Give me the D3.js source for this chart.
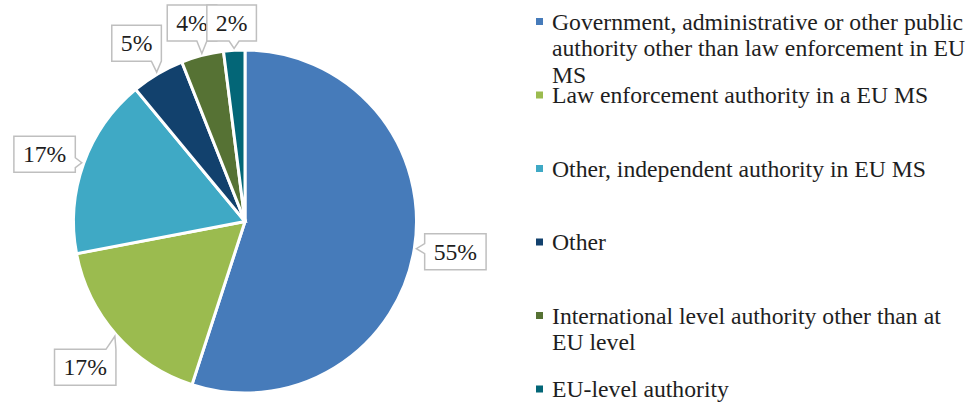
<!DOCTYPE html>
<html lang="en">
  <head>
    <meta charset="UTF-8" />
    <title>Authorities pie</title>
    <style>
      body { margin: 0; background: #fff; }
      svg { display: block; }
      svg text { font-family: "Liberation Serif", "Times New Roman", Times, "DejaVu Serif", serif; }
    </style>
  </head>
  <body>
    <svg width="978" height="403"></svg>

    <script src="https://d3js.org/d3.v7.min.js"></script>
    <script>
      // Data
      const categories = [
        "Government, administrative or other public authority other than law enforcement in EU MS",
        "Law enforcement authority in a EU MS",
        "Other, independent authority in EU MS",
        "Other",
        "International level authority other than at EU level",
        "EU-level authority",
      ];
      const shares = [55, 17, 17, 5, 4, 2];
      const colors = ["#467BBA", "#9BBB4F", "#3FA9C5", "#12416D", "#567234", "#036677"];

      const svg = d3.select("svg");
      const cx = 245, cy = 221.5, radius = 171.5;
      const fontSize = 23.7;

      const pie = d3.pie().sort(null).value((d) => d.value);
      const arc = d3.arc().innerRadius(0).outerRadius(radius);
      const arcs = pie(shares.map((v, i) => ({ value: v, i })));

      const g = svg.append("g").attr("transform", `translate(${cx},${cy})`);

      // Slices
      g.selectAll("path.slice")
        .data(arcs)
        .enter()
        .append("path")
        .attr("class", "slice")
        .attr("d", arc)
        .attr("fill", (d) => colors[d.data.i])
        .attr("stroke", "#fff")
        .attr("stroke-width", 3)
        .attr("stroke-linejoin", "miter");

      // measure text with a hidden svg text node
      const probe = svg.append("text").attr("font-size", fontSize).attr("opacity", 0);
      function textW(s) {
        probe.text(s);
        return probe.node().getComputedTextLength();
      }

      const labelR = 213;
      const boxH = 36;

      // box with a little wedge pointing at (tx, ty)
      function calloutPath(x0, y0, w, h, tx, ty) {
        const x1 = x0 + w, y1 = y0 + h;
        const half = 5;
        const dxL = x0 - tx, dxR = tx - x1, dyT = y0 - ty, dyB = ty - y1;
        const m = Math.max(dxL, dxR, dyT, dyB);
        const side = m === dxL ? "L" : m === dxR ? "R" : m === dyT ? "T" : "B";
        const clamp = (v, a, b) => Math.max(a + half, Math.min(b - half, v));
        const pts = [[x0, y0]];
        if (side === "T") {
          const c = clamp(tx, x0, x1);
          pts.push([c - half, y0], [tx, ty], [c + half, y0]);
        }
        pts.push([x1, y0]);
        if (side === "R") {
          const c = clamp(ty, y0, y1);
          pts.push([x1, c - half], [tx, ty], [x1, c + half]);
        }
        pts.push([x1, y1]);
        if (side === "B") {
          const c = clamp(tx, x0, x1);
          pts.push([c + half, y1], [tx, ty], [c - half, y1]);
        }
        pts.push([x0, y1]);
        if (side === "L") {
          const c = clamp(ty, y0, y1);
          pts.push([x0, c + half], [tx, ty], [x0, c - half]);
        }
        return "M" + pts.map((p) => p.join(",")).join("L") + "Z";
      }

      const labels = svg.append("g");
      arcs.forEach((d) => {
        const a = (d.startAngle + d.endAngle) / 2;
        const text = shares[d.data.i] + "%";
        const w = textW(text) + 18;
        const bx = cx + labelR * Math.sin(a);
        // left-side boxes sit a touch lower in the original
        const by = cy - labelR * Math.cos(a) + (Math.sin(a) < 0 ? 5 : -3);
        const x0 = bx - w / 2;
        const y0 = Math.max(5, by - boxH / 2);
        const tx = cx + (radius + 2) * Math.sin(a);
        const ty = cy - (radius + 2) * Math.cos(a);
        labels
          .append("path")
          .attr("d", calloutPath(x0, y0, w, boxH, tx, ty))
          .attr("fill", "#fff")
          .attr("stroke", "#BFBFBF")
          .attr("stroke-width", 1.5);
        labels
          .append("text")
          .attr("x", x0 + w / 2)
          .attr("y", y0 + 26)
          .attr("text-anchor", "middle")
          .attr("font-size", fontSize)
          .attr("fill", "#1e1e1e")
          .text(text);
      });

      // Legend
      const legendX = 552, legendTop = 29.5, legendStep = 73.5, lineH = 26.5, wrapW = 420;
      function wrap(str) {
        const words = str.split(" ");
        const lines = [];
        let cur = "";
        words.forEach((w) => {
          const test = cur ? cur + " " + w : w;
          if (textW(test) > wrapW && cur) {
            lines.push(cur);
            cur = w;
          } else cur = test;
        });
        lines.push(cur);
        return lines;
      }

      const legend = svg.append("g");
      categories.forEach((name, i) => {
        const base = legendTop + i * legendStep;
        legend
          .append("rect")
          .attr("x", 536)
          .attr("y", base - 11.5)
          .attr("width", 7)
          .attr("height", 7)
          .attr("fill", colors[i]);
        const t = legend
          .append("text")
          .attr("x", legendX)
          .attr("y", base)
          .attr("font-size", fontSize)
          .attr("fill", "#1e1e1e");
        wrap(name).forEach((line, k) => {
          t.append("tspan").attr("x", legendX).attr("y", base + k * lineH).text(line);
        });
      });
      probe.remove();
    </script>
  </body>
</html>
